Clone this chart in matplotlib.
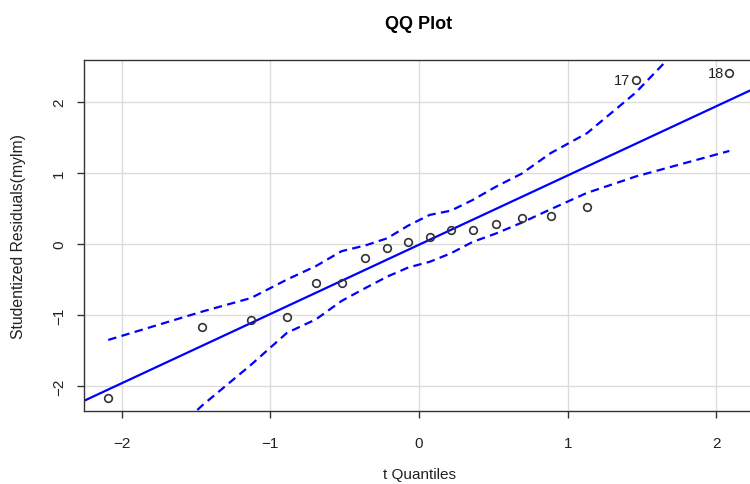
import numpy as np
import matplotlib
matplotlib.use("Agg")
import matplotlib.pyplot as plt

plt.rcParams['font.family'] = ['Liberation Sans', 'DejaVu Sans']

# t quantiles and studentized residuals
tq = [-2.09, -1.457, -1.13, -0.888, -0.693, -0.52, -0.361, -0.215, -0.072,
      0.072, 0.215, 0.361, 0.52, 0.69, 0.886, 1.13, 1.457, 2.087]
resid = [-2.17, -1.165, -1.075, -1.03, -0.55, -0.545, -0.197, -0.05, 0.028,
         0.10, 0.197, 0.20, 0.277, 0.372, 0.40, 0.52, 2.31, 2.41]

# simulated envelope
upper = [-1.35, -0.95, -0.76, -0.50, -0.31, -0.10, -0.02, 0.08, 0.26,
         0.41, 0.47, 0.62, 0.81, 0.99, 1.28, 1.56, 2.13, 3.5]
lower = [-3.5, -2.27, -1.70, -1.25, -1.06, -0.80, -0.62, -0.46, -0.33,
         -0.25, -0.13, 0.03, 0.15, 0.30, 0.49, 0.72, 0.95, 1.31]

# reference line
slope = 0.975
intercept = -0.01

labels = {16: "17", 17: "18"}

fig = plt.figure(figsize=(7.5, 4.85), dpi=100)
ax = fig.add_axes([84 / 750, 73 / 485, 670 / 750, 351 / 485])

xlim = (-2.253, 2.253)
ax.set_xlim(xlim)
ax.set_ylim(-2.35, 2.59)

ax.set_xticks([-2, -1, 0, 1, 2])
ax.set_yticks([-2, -1, 0, 1, 2])
ax.grid(True, color='#dcdcdc', linewidth=1.0)
ax.set_axisbelow(True)

xs = np.array(xlim)
ax.plot(xs, intercept + slope * xs, color='blue', linewidth=1.6)
ax.plot(tq, upper, color='blue', linewidth=1.6, linestyle=(0, (3.8, 2.4)))
ax.plot(tq, lower, color='blue', linewidth=1.6, linestyle=(0, (3.8, 2.4)))

ax.plot(tq, resid, 'o', markerfacecolor='none', markeredgecolor='#333333',
        markersize=5.5, markeredgewidth=1.2)

for i, lab in labels.items():
    ax.annotate(lab, (tq[i], resid[i]), xytext=(-4, 0),
                textcoords='offset points', ha='right', va='center',
                fontsize=10.5, color='#222222')

for s in ax.spines.values():
    s.set_color('#333333')
    s.set_linewidth(1.0)

ax.tick_params(direction='out', length=5, width=1, colors='#333333',
               labelsize=11, labelcolor='#222222')
ax.tick_params(axis='x', pad=13)
ax.tick_params(axis='y', pad=8)
for t in ax.get_yticklabels():
    t.set_rotation(90)
    t.set_va('center')

ax.set_title("QQ Plot", fontsize=13, fontweight='bold', pad=23)
ax.set_xlabel("t Quantiles", fontsize=11, labelpad=12, color='#222222')
ax.set_ylabel("Studentized Residuals(mylm)", fontsize=11.3, labelpad=18.5,
              color='#222222')

fig.savefig("out.png", dpi=100)
